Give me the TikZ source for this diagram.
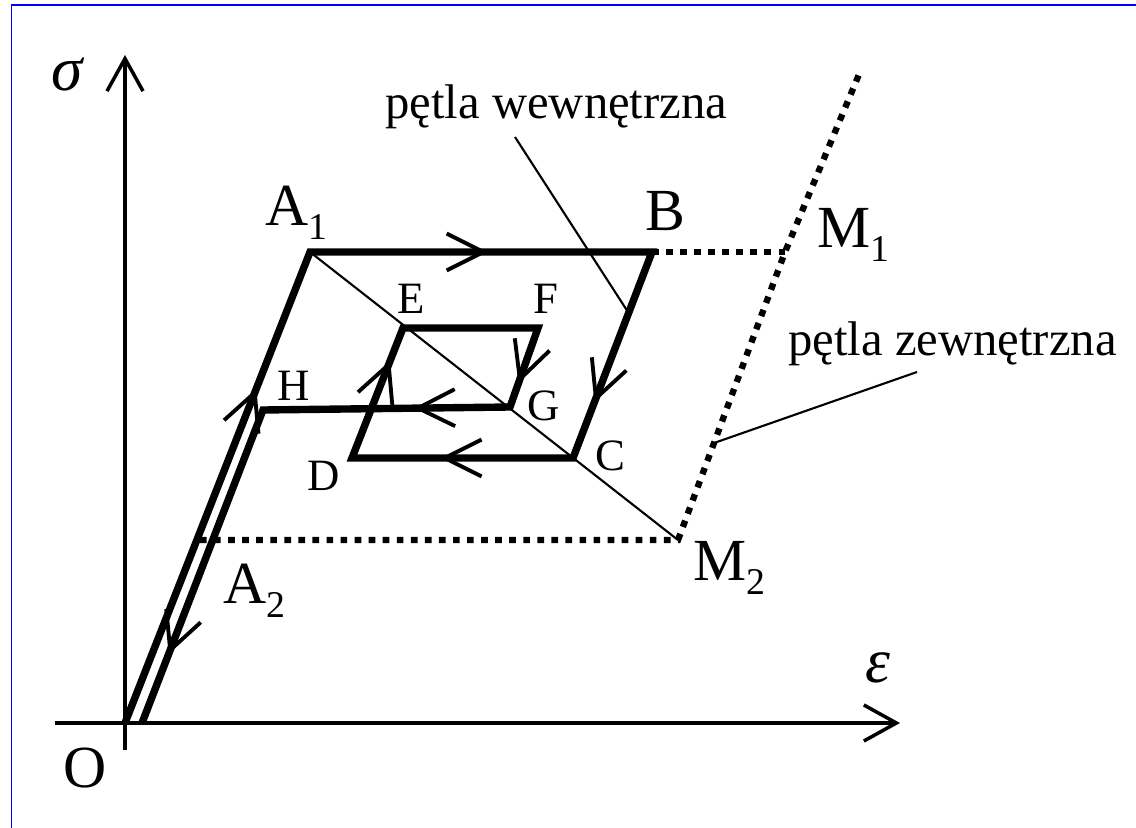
\documentclass[tikz,border=0pt]{standalone}
\usepackage{fontspec}
\setmainfont{Liberation Serif}
\usetikzlibrary{arrows.meta,decorations.markings,calc}

\newcommand{\lowidx}[1]{\raisebox{-8.5pt}{\fontsize{21.5}{24}\selectfont #1}}

\begin{document}
\begin{tikzpicture}[
  x=0.02cm, y=-0.02cm,
  axis/.style={line width=2pt,
    -{Straight Barb[length=18.5pt,width=20.5pt,line width=2pt]}},
  loopline/.style={line width=4.2pt, line join=miter},
  dotline/.style={line width=3.6pt, dash pattern=on 3.8pt off 4.2pt},
  leader/.style={line width=1.2pt},
  dir/.style={decoration={markings, mark=at position #1 with
    {\arrow{Straight Barb[length=21pt,width=21pt,line width=2.2pt]}}},
    postaction={decorate}},
  ptlabel/.style={font=\fontsize{34}{40}\selectfont, inner sep=0pt, anchor=base west},
  ptsmall/.style={font=\fontsize{25.5}{30}\selectfont, inner sep=0pt, anchor=base west},
  remark/.style={font=\fontsize{27.7}{32}\selectfont, inner sep=0pt, anchor=base west},
  greek/.style={font=\fontsize{36}{40}\selectfont\itshape}
  ]

  \useasboundingbox (0,0) rectangle (1136,828);
  \draw [blue, line width=0.9pt] (11.5,828) -- (11.5,5) -- (1136,5);

  % axes
  \coordinate (xstart) at (55,723);
  \coordinate (xend) at (900,723);
  \coordinate (ystart) at (125,750);
  \coordinate (yend) at (125,55);
  \draw [axis] (xstart) -- (xend);
  \draw [axis] (ystart) -- (yend);
  \node (sig) [greek] at (67,75) {σ};
  \node (eps) [greek] at (878,668) {ε};

  % points of the loop
  \coordinate (O) at (125,723);
  \coordinate (A1) at (310,252);
  \coordinate (B) at (652,252);
  \coordinate (C) at (573,458);
  \coordinate (D) at (352,458);
  \coordinate (E) at (403,328);
  \coordinate (F) at (538,328);
  \coordinate (G) at (510,407);
  \coordinate (H) at (263,410);
  \coordinate (Oback) at (142,723);
  \coordinate (A2) at (200,540);
  \coordinate (M1) at (785,252);
  \coordinate (M2) at (678,540);
  \coordinate (K) at (714,443);
  \coordinate (Mtop) at (860,72);

  \draw [leader] (A1) -- (M2);
  \draw [dotline] (B) -- (M1);
  \draw [dotline] (A2) -- (M2) -- (K) -- (M1) -- (Mtop);

  \draw [loopline] (O) -- (A1) -- (B) -- (C) -- (D) -- (E) -- (F) -- (G)
    -- (H) -- (Oback);
  \path [dir=0.71] (O) -- (A1);
  \path [dir=0.52] (A1) -- (B);
  \path [dir=0.73] (B) -- (C);
  \path [dir=0.60] (C) -- (D);
  \path [dir=0.75] (D) -- (E);
  \path [dir=0.70] (F) -- (G);
  \path [dir=0.39] (G) -- (H);
  \path [dir=0.78] (H) -- (Oback);

  % labels
  \node (lO) [ptlabel] at (63,787) {O};
  \node (lA1) [ptlabel] at (265,225) {A\lowidx{1}};
  \node (lB) [ptlabel] at (645,230) {B};
  \node (lM1) [ptlabel] at (817,247) {M\lowidx{1}};
  \node (lM2) [ptlabel] at (693,580) {M\lowidx{2}};
  \node (lA2) [ptlabel] at (223,603) {A\lowidx{2}};
  \node (lE) [ptsmall] at (397,313) {E};
  \node (lF) [ptsmall] at (533,313) {F};
  \node (lG) [ptsmall] at (527,420) {G};
  \node (lC) [ptsmall] at (595,470) {C};
  \node (lD) [ptsmall] at (307,490) {D};
  \node (lH) [ptsmall] at (277,400) {H};

  % descriptions
  \node (wew) [remark] at (385,118) {pętla wewnętrzna};
  \node (zew) [remark] at (788,355) {pętla zewnętrzna};
  \coordinate (wewfoot) at (515,137);
  \coordinate (zewfoot) at (917,372);
  \draw [leader] (wewfoot) -- ($(B)!0.296!(C)$);
  \draw [leader] (zewfoot) -- (K);
\end{tikzpicture}
\end{document}
